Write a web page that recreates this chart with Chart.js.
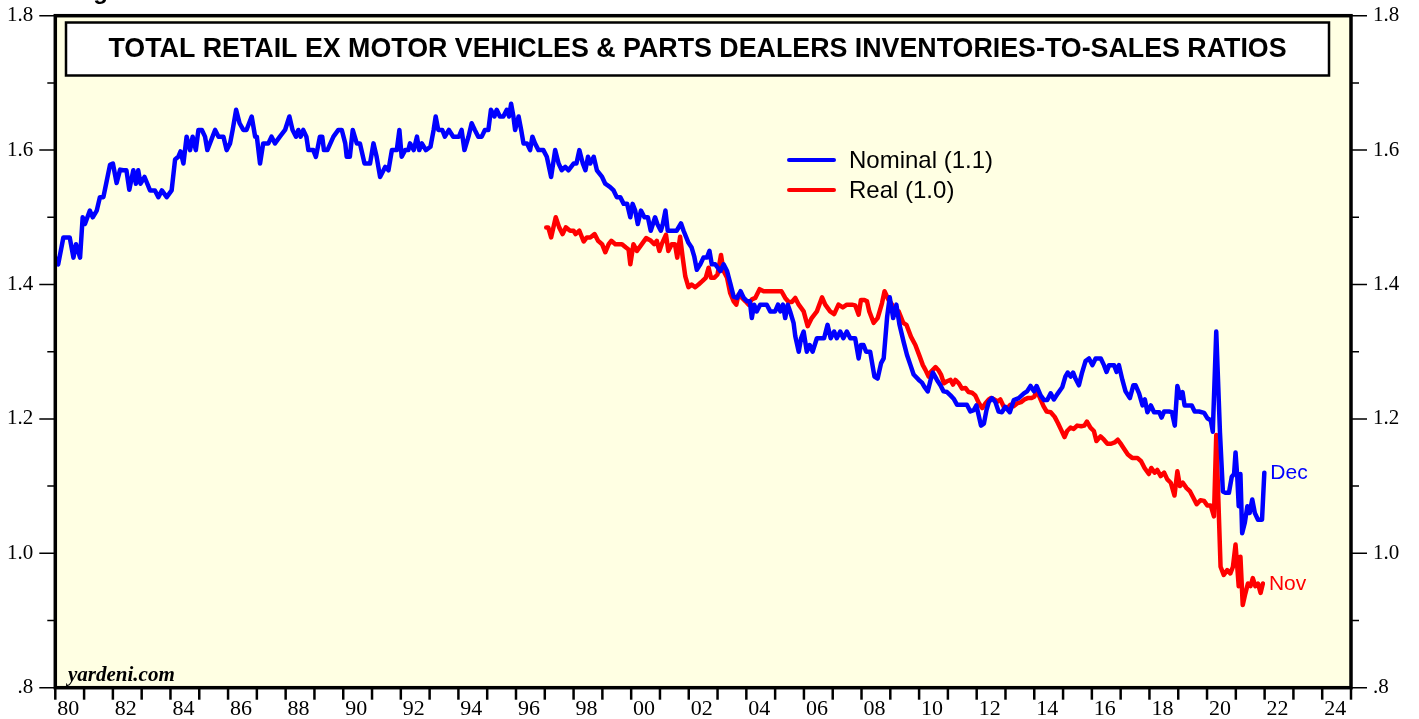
<!DOCTYPE html>
<html>
<head>
<meta charset="utf-8">
<title>Total Retail ex Motor Vehicles & Parts Dealers Inventories-to-Sales Ratios</title>
<script src="https://cdn.jsdelivr.net/npm/chart.js@4/dist/chart.umd.min.js"></script>
<style>
  html, body { margin: 0; padding: 0; background: #ffffff; }
  #wrap { width: 1419px; height: 719px; }
</style>
</head>
<body>
<div id="wrap"><canvas id="ratioChart" width="1419" height="719"></canvas></div>
<script>
// values, dates as decimal years
const nominalDates = [
  1980.00,1980.10,1980.28,1980.50,1980.63,1980.72,1980.86,1980.95,1981.03,1981.20,1981.30,1981.44,1981.55,1981.67,1981.78,1981.90,
  1982.00,1982.13,1982.25,1982.36,1982.47,1982.57,1982.71,1982.80,1982.88,1982.96,1983.10,1983.29,1983.46,1983.58,1983.70,1983.87,
  1984.04,1984.16,1984.27,1984.35,1984.45,1984.56,1984.68,1984.77,1984.88,1984.97,1985.09,1985.20,1985.28,1985.55,1985.67,1985.84,1985.95,
  1986.07,1986.16,1986.28,1986.40,1986.53,1986.64,1986.82,1986.94,1987.00,1987.11,1987.22,1987.40,1987.51,1987.63,1987.80,1987.98,
  1988.13,1988.24,1988.36,1988.44,1988.52,1988.61,1988.72,1988.79,1988.96,1989.05,1989.19,1989.27,1989.33,1989.45,1989.66,1989.83,1989.95,
  1990.07,1990.12,1990.23,1990.33,1990.47,1990.58,1990.74,1990.93,1991.05,1991.16,1991.28,1991.40,1991.46,1991.57,1991.69,1991.86,1991.95,
  1992.03,1992.15,1992.26,1992.32,1992.45,1992.56,1992.64,1992.73,1992.87,1993.03,1993.14,1993.21,1993.30,1993.44,1993.53,1993.67,1993.82,
  1994.02,1994.11,1994.21,1994.35,1994.46,1994.57,1994.69,1994.81,1994.92,1995.04,1995.13,1995.25,1995.33,1995.44,1995.56,1995.68,1995.76,1995.83,1995.91,1995.97,
  1996.09,1996.18,1996.26,1996.38,1996.49,1996.57,1996.66,1996.78,1996.95,1997.07,1997.22,1997.36,1997.48,1997.59,1997.71,1997.82,
  1998.00,1998.10,1998.20,1998.32,1998.41,1998.50,1998.58,1998.70,1998.81,1998.99,1999.10,1999.27,1999.39,1999.50,1999.62,1999.74,1999.86,1999.97,
  2000.05,2000.14,2000.23,2000.34,2000.46,2000.58,2000.68,2000.83,2000.91,2001.03,2001.10,2001.19,2001.27,2001.41,2001.58,2001.73,2001.82,2001.99,
  2002.10,2002.19,2002.28,2002.40,2002.51,2002.63,2002.72,2002.80,2002.92,2003.10,2003.21,2003.33,2003.44,2003.56,2003.68,2003.80,2003.91,
  2004.03,2004.12,2004.19,2004.27,2004.36,2004.48,2004.71,2004.83,2005.00,2005.10,2005.18,2005.27,2005.35,2005.44,2005.52,2005.64,2005.70,2005.82,2005.90,2005.99,
  2006.10,2006.20,2006.30,2006.45,2006.59,2006.70,2006.82,2006.93,2007.05,2007.14,2007.26,2007.37,2007.49,2007.61,2007.78,2007.90,2007.98,
  2008.07,2008.16,2008.30,2008.45,2008.56,2008.68,2008.77,2008.89,2008.98,2009.10,2009.21,2009.32,2009.46,2009.58,2009.70,2009.81,2009.99,
  2010.10,2010.18,2010.30,2010.40,2010.48,2010.62,2010.74,2010.85,2010.97,2011.09,2011.20,2011.32,2011.50,2011.66,2011.78,2011.90,2011.99,
  2012.07,2012.15,2012.25,2012.34,2012.42,2012.53,2012.65,2012.76,2012.88,2012.99,2013.15,2013.29,2013.46,2013.64,2013.75,2013.87,2013.99,
  2014.08,2014.22,2014.34,2014.45,2014.57,2014.68,2014.82,2014.97,2015.08,2015.16,2015.26,2015.35,2015.43,2015.55,2015.66,2015.78,2015.90,
  2016.02,2016.13,2016.31,2016.42,2016.51,2016.60,2016.77,2016.86,2016.94,2017.06,2017.17,2017.32,2017.44,2017.52,2017.64,2017.76,2017.84,2017.93,
  2018.05,2018.16,2018.34,2018.42,2018.51,2018.68,2018.78,2018.88,2018.97,2019.08,2019.15,2019.22,2019.37,2019.47,2019.57,2019.72,2019.90,
  2020.01,2020.13,2020.20,2020.32,2020.45,2020.55,2020.64,2020.76,2020.86,2020.94,2020.99,2021.05,2021.10,2021.16,2021.22,2021.31,2021.40,2021.48,2021.57,2021.66,2021.77,2021.91,2021.99
];
const nominalValues = [
  1.44,1.43,1.47,1.47,1.44,1.46,1.44,1.50,1.49,1.51,1.50,1.51,1.53,1.53,1.553,1.578,
  1.58,1.551,1.571,1.57,1.57,1.541,1.57,1.55,1.57,1.55,1.56,1.54,1.54,1.53,1.54,1.53,
  1.54,1.586,1.59,1.598,1.58,1.62,1.60,1.62,1.60,1.63,1.63,1.62,1.60,1.63,1.62,1.62,1.60,
  1.61,1.63,1.66,1.64,1.63,1.63,1.65,1.62,1.62,1.58,1.61,1.61,1.62,1.61,1.62,1.63,
  1.65,1.63,1.62,1.63,1.62,1.63,1.62,1.60,1.60,1.59,1.62,1.62,1.60,1.60,1.62,1.63,1.63,
  1.61,1.59,1.59,1.63,1.61,1.61,1.58,1.58,1.61,1.59,1.56,1.57,1.575,1.57,1.60,1.60,1.63,
  1.59,1.60,1.60,1.61,1.60,1.62,1.60,1.61,1.60,1.605,1.63,1.65,1.63,1.63,1.62,1.63,1.62,
  1.62,1.63,1.60,1.62,1.64,1.63,1.62,1.62,1.63,1.63,1.66,1.65,1.66,1.65,1.65,1.66,1.65,1.669,1.65,1.63,
  1.65,1.63,1.61,1.61,1.60,1.62,1.61,1.60,1.60,1.59,1.56,1.60,1.58,1.57,1.575,1.57,
  1.58,1.58,1.60,1.58,1.57,1.59,1.58,1.59,1.57,1.56,1.55,1.545,1.54,1.53,1.53,1.52,1.52,1.50,
  1.52,1.51,1.49,1.51,1.50,1.50,1.48,1.50,1.49,1.48,1.49,1.51,1.48,1.48,1.48,1.491,1.48,1.462,
  1.455,1.442,1.422,1.43,1.44,1.44,1.45,1.43,1.43,1.42,1.43,1.42,1.402,1.382,1.38,1.39,1.38,
  1.375,1.375,1.35,1.37,1.36,1.37,1.37,1.36,1.36,1.37,1.36,1.37,1.35,1.37,1.36,1.343,1.323,1.30,1.32,1.33,
  1.30,1.31,1.30,1.32,1.32,1.32,1.34,1.32,1.33,1.32,1.33,1.32,1.33,1.32,1.32,1.29,1.31,
  1.31,1.30,1.30,1.263,1.26,1.283,1.29,1.352,1.381,1.35,1.37,1.34,1.315,1.295,1.28,1.266,1.258,
  1.254,1.248,1.241,1.258,1.269,1.258,1.25,1.241,1.24,1.235,1.23,1.221,1.221,1.221,1.211,1.213,1.22,
  1.205,1.19,1.193,1.213,1.225,1.231,1.225,1.211,1.21,1.218,1.21,1.228,1.231,1.238,1.241,1.249,1.241,
  1.249,1.235,1.228,1.228,1.238,1.229,1.238,1.247,1.263,1.269,1.263,1.269,1.26,1.25,1.269,1.286,1.29,
  1.28,1.29,1.29,1.28,1.27,1.28,1.28,1.27,1.28,1.258,1.241,1.231,1.25,1.25,1.238,1.22,1.229,1.21,
  1.22,1.21,1.21,1.202,1.211,1.211,1.21,1.19,1.249,1.231,1.24,1.22,1.22,1.22,1.211,1.211,1.209,
  1.201,1.198,1.181,1.33,1.179,1.092,1.09,1.09,1.114,1.118,1.15,1.114,1.07,1.118,1.03,1.045,1.07,1.06,1.08,1.06,1.05,1.05,1.12
];

const realDates = [
  1997.05,1997.12,1997.22,1997.38,1997.50,1997.62,1997.73,1997.88,1998.00,1998.07,1998.20,1998.35,1998.46,1998.58,1998.73,1998.85,1998.99,
  1999.10,1999.22,1999.31,1999.45,1999.57,1999.68,1999.82,1999.91,1999.97,2000.08,2000.20,2000.37,2000.52,2000.66,2000.80,2000.89,2000.98,
  2001.06,2001.21,2001.29,2001.41,2001.52,2001.60,2001.70,2001.79,2001.88,2001.99,2002.10,2002.22,2002.34,2002.47,2002.59,2002.69,2002.77,2002.89,
  2003.00,2003.12,2003.21,2003.33,2003.44,2003.56,2003.65,2003.73,2003.85,2003.97,2004.08,2004.19,2004.31,2004.46,2004.60,2004.72,2004.89,
  2005.07,2005.22,2005.35,2005.47,2005.58,2005.70,2005.82,2005.99,2006.13,2006.27,2006.45,2006.63,2006.74,2006.91,2007.05,2007.20,2007.35,
  2007.49,2007.67,2007.78,2007.90,2007.98,2008.10,2008.19,2008.27,2008.42,2008.56,2008.71,2008.80,2008.94,2009.06,2009.17,2009.29,2009.45,
  2009.56,2009.72,2009.87,2010.02,2010.13,2010.22,2010.33,2010.41,2010.57,2010.68,2010.76,2010.86,2010.97,2011.09,2011.18,2011.26,2011.38,
  2011.49,2011.61,2011.72,2011.84,2011.95,2012.07,2012.19,2012.30,2012.42,2012.50,2012.61,2012.73,2012.82,2012.94,2013.05,2013.17,2013.29,
  2013.40,2013.54,2013.66,2013.77,2013.89,2014.00,2014.08,2014.20,2014.32,2014.43,2014.57,2014.71,2014.82,2014.93,2015.05,2015.14,2015.26,
  2015.37,2015.49,2015.63,2015.74,2015.83,2015.95,2016.07,2016.16,2016.30,2016.42,2016.54,2016.67,2016.79,2016.90,2017.02,2017.14,2017.25,
  2017.40,2017.58,2017.71,2017.83,2017.98,2018.06,2018.18,2018.27,2018.39,2018.51,2018.62,2018.74,2018.87,2018.97,2019.06,2019.16,2019.29,
  2019.41,2019.52,2019.64,2019.77,2019.90,2020.01,2020.13,2020.24,2020.32,2020.47,2020.58,2020.70,2020.81,2020.90,2020.99,2021.05,2021.10,
  2021.16,2021.24,2021.33,2021.42,2021.51,2021.59,2021.68,2021.77,2021.86,2021.94
];
const realValues = [
  1.485,1.485,1.47,1.50,1.485,1.475,1.485,1.48,1.48,1.475,1.48,1.464,1.47,1.47,1.475,1.465,1.46,
  1.448,1.46,1.465,1.46,1.46,1.46,1.455,1.452,1.43,1.46,1.45,1.46,1.469,1.466,1.46,1.465,1.45,
  1.46,1.474,1.45,1.46,1.46,1.44,1.471,1.44,1.412,1.396,1.40,1.396,1.40,1.405,1.41,1.425,1.41,1.41,
  1.415,1.444,1.42,1.41,1.387,1.375,1.37,1.385,1.38,1.375,1.37,1.378,1.38,1.393,1.39,1.39,1.39,
  1.39,1.39,1.38,1.374,1.374,1.38,1.37,1.36,1.338,1.35,1.36,1.381,1.37,1.36,1.356,1.37,1.366,
  1.37,1.37,1.369,1.355,1.377,1.377,1.375,1.36,1.343,1.35,1.372,1.39,1.377,1.37,1.355,1.36,1.343,
  1.34,1.322,1.31,1.293,1.28,1.273,1.263,1.27,1.277,1.272,1.266,1.253,1.256,1.258,1.251,1.258,1.253,
  1.245,1.246,1.24,1.239,1.235,1.224,1.216,1.223,1.229,1.231,1.229,1.226,1.229,1.218,1.215,1.221,1.219,
  1.223,1.225,1.229,1.231,1.231,1.233,1.243,1.231,1.219,1.211,1.21,1.203,1.194,1.184,1.173,1.182,1.187,
  1.185,1.19,1.189,1.19,1.196,1.187,1.182,1.167,1.174,1.169,1.163,1.163,1.165,1.169,1.162,1.154,1.147,
  1.142,1.142,1.137,1.127,1.118,1.127,1.12,1.124,1.115,1.12,1.11,1.105,1.086,1.122,1.10,1.105,1.097,
  1.092,1.083,1.073,1.079,1.078,1.071,1.071,1.055,1.176,0.98,0.968,0.975,0.97,0.98,1.013,0.98,0.951,
  0.995,0.923,0.94,0.955,0.951,0.963,0.951,0.955,0.941,0.955
];

const xTickYears = [1980,1982,1984,1986,1988,1990,1992,1994,1996,1998,2000,2002,2004,2006,2008,2010,2012,2014,2016,2018,2020,2022,2024];
const xTickLabels = ['80','82','84','86','88','90','92','94','96','98','00','02','04','06','08','10','12','14','16','18','20','22','24'];
const yTickValues = [0.8, 1.0, 1.2, 1.4, 1.6, 1.8];
const yTickLabels = ['.8', '1.0', '1.2', '1.4', '1.6', '1.8'];

const seriesNames = ['Nominal (1.1)', 'Real (1.0)'];
const seriesEnds = ['Dec', 'Nov'];

const toPoints = (dates, values) => dates.map((d, i) => ({ x: d, y: values[i] }));

const serif = 'Liberation Serif, Times New Roman, serif';
const sans = 'Liberation Sans, Arial, sans-serif';

// keep the plot box fixed: no extra room for half-labels
const fixBox = (s, size) => {
    if (s.isHorizontal()) s.height = size; else s.width = size;
    s.paddingTop = 0;
    s.paddingBottom = 0;
    s.paddingLeft = 0;
    s.paddingRight = 0;
};

const yAxis = (position, width) => ({
    type: 'linear',
    position: position,
    min: 0.8,
    max: 1.8,
    afterBuildTicks: s => { s.ticks = yTickValues.map(v => ({ value: v })); },
    afterFit: s => fixBox(s, width),
    ticks: {
        callback: (v, i) => yTickLabels[i],
        font: { family: serif, size: 21 },
        color: '#000',
        padding: 22
    },
    grid: { display: false, drawTicks: false },
    border: { display: false }
});

// background, frame, tick marks, title box, legend and notes
const decorPlugin = {
    id: 'decor',
    beforeDraw(chart) {
        const { ctx, chartArea: a } = chart;
        ctx.save();
        ctx.fillStyle = '#ffffff';
        ctx.fillRect(0, 0, chart.width, chart.height);
        ctx.fillStyle = '#ffffe3';
        ctx.fillRect(a.left, a.top, a.right - a.left, a.bottom - a.top);

        ctx.fillStyle = '#ffffff';
        ctx.fillRect(66, 22.5, 1263, 53);
        ctx.strokeStyle = '#000';
        ctx.lineWidth = 2.5;
        ctx.strokeRect(66, 22.5, 1263, 53);
        ctx.fillStyle = '#000';
        ctx.font = 'bold 26.8px ' + sans;
        ctx.textAlign = 'center';
        ctx.textBaseline = 'middle';
        ctx.fillText('TOTAL RETAIL EX MOTOR VEHICLES & PARTS DEALERS INVENTORIES-TO-SALES RATIOS', 697.5, 50);

        // cut-off figure caption at the very top
        ctx.textAlign = 'left';
        ctx.textBaseline = 'alphabetic';
        ctx.font = 'bold 24px ' + sans;
        ctx.fillText('Figure 4.', 72, -1);
        ctx.restore();
    },
    afterDraw(chart) {
        const { ctx, chartArea: a, scales } = chart;
        const x = scales.x, y = scales.y;
        ctx.save();
        ctx.strokeStyle = '#000';

        // year ticks
        ctx.lineWidth = 2.5;
        for (let yr = 1980; yr <= 2025; yr++) {
            const px = x.getPixelForValue(yr);
            ctx.beginPath();
            ctx.moveTo(px, a.bottom);
            ctx.lineTo(px, a.bottom + 12);
            ctx.stroke();
        }
        // value ticks both sides
        ctx.lineWidth = 1.5;
        for (let k = 8; k <= 18; k++) {
            const py = y.getPixelForValue(k / 10);
            const len = k % 2 === 0 ? 16 : 8;
            ctx.beginPath();
            ctx.moveTo(a.left - len, py);
            ctx.lineTo(a.left, py);
            ctx.moveTo(a.right, py);
            ctx.lineTo(a.right + len, py);
            ctx.stroke();
        }
        // frame
        ctx.lineWidth = 3.5;
        ctx.strokeRect(a.left, a.top, a.right - a.left, a.bottom - a.top);

        // legend
        ctx.font = '24px ' + sans;
        ctx.textAlign = 'left';
        ctx.textBaseline = 'middle';
        chart.data.datasets.forEach((ds, i) => {
            const ly = 160 + i * 30;
            ctx.strokeStyle = ds.borderColor;
            ctx.lineWidth = 4;
            ctx.lineCap = 'round';
            ctx.beginPath();
            ctx.moveTo(789, ly);
            ctx.lineTo(834, ly);
            ctx.stroke();
            ctx.fillStyle = '#000';
            ctx.fillText(seriesNames[i], 849, ly + 1);
        });

        // end-of-series notes
        ctx.font = '21px ' + sans;
        chart.data.datasets.forEach((ds, i) => {
            const last = ds.data[ds.data.length - 1];
            ctx.fillStyle = ds.borderColor;
            ctx.fillText(seriesEnds[i], x.getPixelForValue(last.x) + 6, y.getPixelForValue(last.y) + 1);
        });

        ctx.fillStyle = '#000';
        ctx.font = 'italic bold 21px ' + serif;
        ctx.textBaseline = 'alphabetic';
        ctx.fillText('yardeni.com', 68, 681);
        ctx.restore();
    }
};

const ctx = document.getElementById('ratioChart').getContext('2d');

const ratioChart = new Chart(ctx, {
    type: 'line',
    data: {
        datasets: [
            {
                label: seriesNames[0],
                borderColor: '#0000ff',
                data: toPoints(nominalDates, nominalValues)
            },
            {
                label: seriesNames[1],
                borderColor: '#ff0000',
                data: toPoints(realDates, realValues)
            }
        ]
    },
    options: {
        responsive: false,
        animation: false,
        layout: { padding: { top: 15.7, left: 0, right: 0, bottom: 0 } },
        elements: {
            point: { radius: 0 },
            line: { borderWidth: 4.5, tension: 0, borderJoinStyle: 'round', borderCapStyle: 'round' }
        },
        plugins: {
            legend: { display: false },
            tooltip: { enabled: false }
        },
        scales: {
            x: {
                type: 'linear',
                position: 'bottom',
                min: 1980,
                max: 2025,
                afterBuildTicks: s => { s.ticks = xTickYears.map(v => ({ value: v + 0.45 })); },
                afterFit: s => fixBox(s, 31.3),
                ticks: {
                    callback: (v, i) => xTickLabels[i],
                    font: { family: serif, size: 22 },
                    color: '#000',
                    padding: 8,
                    autoSkip: false,
                    maxRotation: 0
                },
                grid: { display: false, drawTicks: false },
                border: { display: false }
            },
            y: yAxis('left', 55.3),
            y2: yAxis('right', 68)
        }
    },
    plugins: [decorPlugin]
});
</script>
</body>
</html>
